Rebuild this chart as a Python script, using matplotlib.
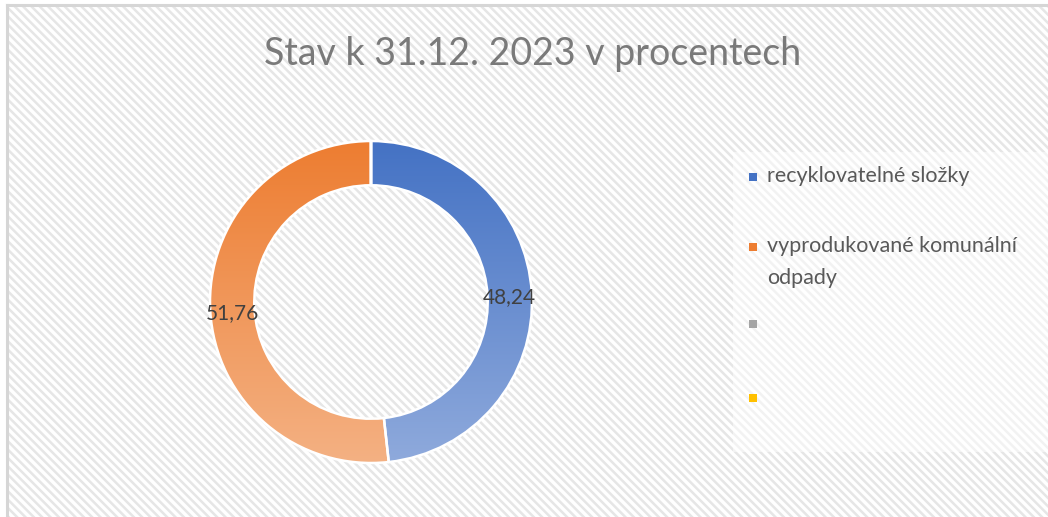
import numpy as np
import matplotlib
matplotlib.use("Agg")
import matplotlib.pyplot as plt
from matplotlib.colors import LinearSegmentedColormap
from matplotlib.patches import Rectangle

plt.rcParams["font.family"] = ["Lato", "DejaVu Sans"]
plt.rcParams["hatch.linewidth"] = 1.8
plt.rcParams["hatch.color"] = "#e6e6e6"

TITLE = "Stav k 31.12. 2023 v procentech"
categories = ["recyklovatelné složky", "vyprodukované komunální\nodpady", "", ""]
values = [48.24, 51.76, 0.0, 0.0]
labels = ["48,24", "51,76"]
colors_top = ["#4472C4", "#ED7D31", "#A5A5A5", "#FFC000"]
colors_bottom = ["#8FAADC", "#F4B183", "#C9C9C9", "#FFD966"]

W, H = 1048, 517
fig = plt.figure(figsize=(W / 100, H / 100), dpi=100)
fig.patch.set_facecolor("white")


def px(x, y, w, h):
    # pixel box (top-left origin) -> figure fraction
    return [x / W, 1 - (y + h) / H, w / W, h / H]


# chart background with diagonal stripes
bg = fig.add_axes(px(7, 5, W - 7, H - 5))
bg.set_xlim(0, 1)
bg.set_ylim(0, 1)
bg.axis("off")
bg.add_patch(Rectangle((0, 0), 1, 1, facecolor="white", edgecolor="#e6e6e6",
                       hatch="\\\\\\\\", linewidth=0))
bg.plot([0, 0], [0, 1], color="#d6d6d6", lw=2.2, clip_on=False)
bg.plot([0, 1], [1, 1], color="#d6d6d6", lw=2.2, clip_on=False)

# legend area (lighter box)
lg = fig.add_axes(px(733, 152, W - 733, 300))
lg.set_xlim(0, W - 733)
lg.set_ylim(300, 0)
lg.axis("off")
lg.add_patch(Rectangle((0, 0), W - 733, 300, facecolor="white", alpha=0.5,
                       linewidth=0))

fig.text(533 / W, 1 - 54 / H, TITLE, ha="center", va="center",
         fontsize=27, color="#7a7a7a")

# donut
cx, cy, R = 371, 302, 161
half = 172
ax = fig.add_axes(px(cx - half, cy - half, 2 * half, 2 * half))
ax.axis("off")
ax.patch.set_alpha(0)

wedges, _ = ax.pie(values, startangle=90, counterclock=False, radius=1,
                   wedgeprops=dict(width=0.275, edgecolor="white", linewidth=1.8),
                   normalize=True)

# vertical gradient fill, clipped to each wedge
grad = np.linspace(0, 1, 256).reshape(-1, 1)
for w, ct, cb, v in zip(wedges, colors_top, colors_bottom, values):
    if v <= 0:
        continue
    w.set_facecolor("none")
    cmap = LinearSegmentedColormap.from_list("g", [ct, cb])
    im = ax.imshow(grad, cmap=cmap, extent=(-1, 1, -1, 1), origin="upper",
                   aspect="auto", zorder=0.5)
    im.set_clip_path(w)
    w.set_zorder(1)
lim = half / R
ax.set_xlim(-lim, lim)
ax.set_ylim(-lim, lim)
ax.set_aspect("equal")

# data labels
fig.text(509 / W, 1 - 297 / H, labels[0], ha="center", va="center",
         fontsize=15, color="#404040")
fig.text(232 / W, 1 - 313 / H, labels[1], ha="center", va="center",
         fontsize=15, color="#404040")

# legend entries
leg_y = [177, 247, 324, 398]
for name, col, y in zip(categories, colors_top, leg_y):
    fig.patches.append(Rectangle((749 / W, 1 - (y + 4) / H), 8 / W, 8 / H,
                                 transform=fig.transFigure, facecolor=col,
                                 edgecolor="none"))
    if name:
        fig.text(767 / W, 1 - (y - 11) / H, name, ha="left", va="top",
                 fontsize=15.5, color="#595959", linespacing=1.72)

fig.savefig("out.png", dpi=100)
